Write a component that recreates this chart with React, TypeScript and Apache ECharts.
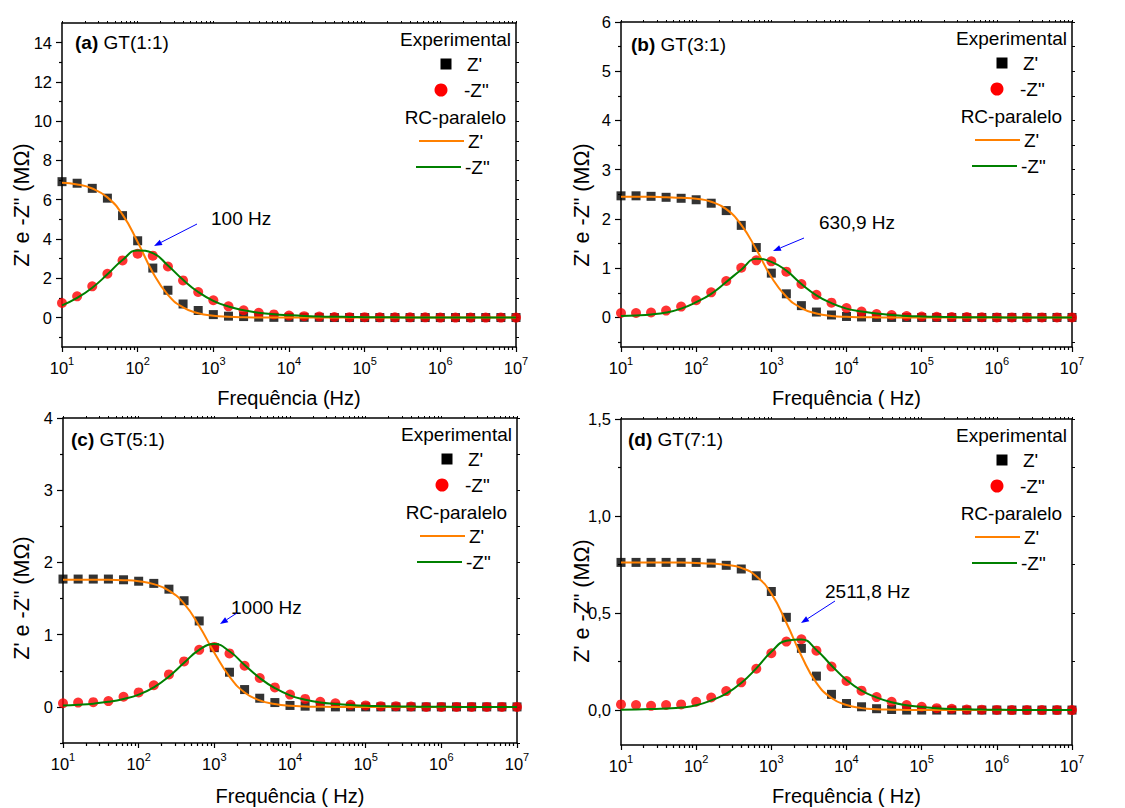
import React, { useEffect, useRef } from "react";
import * as echarts from "echarts";

// Frequencies of the measured / fitted points (Hz), 5 per decade
const FREQ = [10, 15.85, 25.12, 39.81, 63.1, 100, 158.5, 251.2, 398.1, 631, 1000, 1585, 2512, 3981, 6310, 10000, 15850, 25120, 39810, 63100, 1e5, 158500, 251200, 398100, 631000, 1e6, 1585000, 2512000, 3981000, 6310000, 1e7];

// (a) GT(1:1)
const A_ZRE = [6.92, 6.84, 6.58, 6.08, 5.19, 3.91, 2.52, 1.39, 0.69, 0.36, 0.15, 0.07, 0.05, 0.02, 0.01, 0.01, 0.01, 0.01, 0, 0, 0, 0, 0, 0, 0, 0, 0, 0, 0, 0, 0];
const A_ZIM = [0.74, 1.08, 1.59, 2.23, 2.91, 3.25, 3.15, 2.6, 1.89, 1.3, 0.88, 0.57, 0.37, 0.24, 0.16, 0.1, 0.07, 0.05, 0.03, 0.02, 0.02, 0.01, 0.01, 0.01, 0.01, 0, 0, 0, 0, 0, 0];
const A_FIT_RE = [6.86, 6.78, 6.57, 6.12, 5.24, 3.85, 2.3, 1.15, 0.52, 0.22, 0.09, 0.04, 0.015, 0.006, 0.002, 0.001, 0, 0, 0, 0, 0, 0, 0, 0, 0, 0, 0, 0, 0, 0, 0];
const A_FIT_IM = [0.62, 1.0, 1.52, 2.2, 2.93, 3.42, 3.28, 2.65, 1.92, 1.3, 0.85, 0.56, 0.37, 0.25, 0.17, 0.12, 0.08, 0.055, 0.04, 0.03, 0.02, 0.015, 0.01, 0.007, 0.005, 0.003, 0.002, 0.001, 0.001, 0, 0];

// (b) GT(3:1)
const B_ZRE = [2.47, 2.47, 2.46, 2.44, 2.42, 2.39, 2.32, 2.17, 1.87, 1.42, 0.9, 0.48, 0.24, 0.11, 0.05, 0.02, 0.01, 0, 0, 0, 0, 0, 0, 0, 0, 0, 0, 0, 0, 0, 0];
const B_ZIM = [0.09, 0.09, 0.1, 0.14, 0.22, 0.35, 0.51, 0.74, 1.01, 1.16, 1.14, 0.93, 0.68, 0.46, 0.3, 0.19, 0.12, 0.07, 0.05, 0.03, 0.02, 0.015, 0.01, 0.01, 0.005, 0, 0, 0, 0, 0, 0];
const B_FIT_RE = [2.45, 2.45, 2.45, 2.44, 2.43, 2.41, 2.35, 2.2, 1.88, 1.38, 0.82, 0.42, 0.19, 0.08, 0.03, 0.012, 0.005, 0.002, 0, 0, 0, 0, 0, 0, 0, 0, 0, 0, 0, 0, 0];
const B_FIT_IM = [0.03, 0.04, 0.06, 0.1, 0.18, 0.31, 0.48, 0.72, 0.97, 1.19, 1.13, 0.95, 0.68, 0.45, 0.29, 0.18, 0.12, 0.08, 0.05, 0.03, 0.02, 0.013, 0.008, 0.005, 0.003, 0.002, 0.001, 0.001, 0, 0, 0];

// (c) GT(5:1)
const C_ZRE = [1.77, 1.77, 1.77, 1.77, 1.76, 1.74, 1.71, 1.63, 1.47, 1.19, 0.82, 0.48, 0.24, 0.12, 0.06, 0.02, 0.01, 0, 0, 0, 0, 0, 0, 0, 0, 0, 0, 0, 0, 0, 0];
const C_ZIM = [0.05, 0.06, 0.065, 0.08, 0.14, 0.2, 0.3, 0.45, 0.63, 0.79, 0.83, 0.74, 0.57, 0.4, 0.27, 0.17, 0.11, 0.07, 0.05, 0.03, 0.02, 0.01, 0.01, 0.005, 0, 0, 0, 0, 0, 0, 0];
const C_FIT_RE = [1.76, 1.76, 1.76, 1.76, 1.755, 1.74, 1.7, 1.61, 1.43, 1.12, 0.75, 0.42, 0.2, 0.09, 0.04, 0.015, 0.006, 0.002, 0, 0, 0, 0, 0, 0, 0, 0, 0, 0, 0, 0, 0];
const C_FIT_IM = [0.02, 0.03, 0.045, 0.07, 0.11, 0.17, 0.27, 0.42, 0.61, 0.79, 0.87, 0.77, 0.58, 0.4, 0.26, 0.16, 0.1, 0.06, 0.04, 0.025, 0.015, 0.01, 0.006, 0.004, 0.002, 0.001, 0, 0, 0, 0, 0];

// (d) GT(7:1)
const D_ZRE = [0.761, 0.761, 0.761, 0.761, 0.761, 0.761, 0.757, 0.746, 0.727, 0.692, 0.611, 0.478, 0.318, 0.175, 0.081, 0.034, 0.017, 0.007, 0.003, 0, 0, 0, 0, 0, 0, 0, 0, 0, 0, 0, 0];
const D_ZIM = [0.029, 0.026, 0.022, 0.026, 0.029, 0.043, 0.065, 0.098, 0.143, 0.213, 0.293, 0.353, 0.365, 0.306, 0.224, 0.15, 0.1, 0.067, 0.043, 0.026, 0.017, 0.01, 0.007, 0.003, 0.002, 0.001, 0, 0, 0, 0, 0];
const D_FIT_RE = [0.76, 0.76, 0.76, 0.76, 0.76, 0.758, 0.755, 0.748, 0.733, 0.69, 0.6, 0.45, 0.28, 0.14, 0.062, 0.026, 0.01, 0.004, 0.002, 0.001, 0, 0, 0, 0, 0, 0, 0, 0, 0, 0, 0];
const D_FIT_IM = [0.002, 0.003, 0.005, 0.008, 0.013, 0.025, 0.05, 0.085, 0.14, 0.215, 0.3, 0.357, 0.364, 0.31, 0.23, 0.155, 0.1, 0.065, 0.04, 0.025, 0.016, 0.01, 0.006, 0.004, 0.0025, 0.0016, 0.001, 0.0006, 0.0004, 0.0003, 0.0002];

// Axis ticks
const X_TICKS = [10, 100, 1000, 10000, 1e5, 1e6, 1e7];
const X_MINOR = [20, 30, 40, 50, 60, 70, 80, 90, 200, 300, 400, 500, 600, 700, 800, 900, 2000, 3000, 4000, 5000, 6000, 7000, 8000, 9000, 2e4, 3e4, 4e4, 5e4, 6e4, 7e4, 8e4, 9e4, 2e5, 3e5, 4e5, 5e5, 6e5, 7e5, 8e5, 9e5, 2e6, 3e6, 4e6, 5e6, 6e6, 7e6, 8e6, 9e6];
const A_YTICKS = [0, 2, 4, 6, 8, 10, 12, 14];
const A_YMINOR = [-1, 1, 3, 5, 7, 9, 11, 13];
const B_YTICKS = [0, 1, 2, 3, 4, 5, 6];
const B_YMINOR = [-0.5, 0.5, 1.5, 2.5, 3.5, 4.5, 5.5];
const C_YTICKS = [0, 1, 2, 3, 4];
const C_YMINOR = [-0.5, 0.5, 1.5, 2.5, 3.5];
const D_YTICKS = [0, 0.5, 1, 1.5];
const D_YMINOR = [0.25, 0.75, 1.25];

const PANEL_TAGS = ["(a)", "(b)", "(c)", "(d)"];
const PANEL_TITLES = ["GT(1:1)", "GT(3:1)", "GT(5:1)", "GT(7:1)"];
const NOTES = ["100 Hz", "630,9 Hz", "1000 Hz", "2511,8 Hz"];
const X_NAMES = ["Frequência (Hz)", "Frequência ( Hz)", "Frequência ( Hz)", "Frequência ( Hz)"];
const Y_NAME = 'Z\' e -Z" (MΩ)';
const LEG_EXP = "Experimental";
const LEG_FIT = "RC-paralelo";
const LEG_RE = "Z'";
const LEG_IM = '-Z"';

const PANELS = [
  { zre: A_ZRE, zim: A_ZIM, fre: A_FIT_RE, fim: A_FIT_IM, yMin: -1.5, yMax: 15, yt: A_YTICKS, ym: A_YMINOR, comma: false },
  { zre: B_ZRE, zim: B_ZIM, fre: B_FIT_RE, fim: B_FIT_IM, yMin: -0.6, yMax: 6, yt: B_YTICKS, ym: B_YMINOR, comma: false },
  { zre: C_ZRE, zim: C_ZIM, fre: C_FIT_RE, fim: C_FIT_IM, yMin: -0.5, yMax: 4, yt: C_YTICKS, ym: C_YMINOR, comma: false },
  { zre: D_ZRE, zim: D_ZIM, fre: D_FIT_RE, fim: D_FIT_IM, yMin: -0.18, yMax: 1.5, yt: D_YTICKS, ym: D_YMINOR, comma: true },
];

// Layout (pixels)
const LAYOUT = [
  { left: 62, top: 23, width: 454, height: 324, tagX: 75, tagY: 42, noteX: 211, noteY: 218, a1: [197, 224], a2: [154, 246], yNameX: 22, yNameY: 205, xNameY: 398 },
  { left: 621, top: 22, width: 451, height: 325, tagX: 631, tagY: 44, noteX: 819, noteY: 222, a1: [804, 238], a2: [773, 251], yNameX: 582, yNameY: 205, xNameY: 398 },
  { left: 63, top: 418, width: 454, height: 325, tagX: 71, tagY: 439, noteX: 231, noteY: 607, a1: [237, 613], a2: [220, 624], yNameX: 22, yNameY: 598, xNameY: 796 },
  { left: 621, top: 419, width: 451, height: 326, tagX: 628, tagY: 439, noteX: 825, noteY: 591, a1: [835, 601], a2: [801, 623], yNameX: 582, yNameY: 601, xNameY: 796 },
];

const FONT = "'Liberation Sans', Arial, Helvetica, sans-serif";
const ORANGE = "#ff8000";
const GREEN = "#008000";

function txt(text: string, x: number, y: number, size: number, align: string, extra: any = {}) {
  return {
    type: "text",
    x,
    y,
    silent: true,
    ...extra,
    style: {
      text,
      fill: "#000",
      fontSize: size,
      fontFamily: FONT,
      align,
      verticalAlign: "middle",
      textAlign: align,
      textVerticalAlign: "middle",
      ...(extra.style || {}),
    },
  };
}

function buildOption() {
  const grid: any[] = [];
  const xAxis: any[] = [];
  const yAxis: any[] = [];
  const series: any[] = [];
  const graphic: any[] = [];
  const axisLine = { show: true, onZero: false, lineStyle: { color: "#000", width: 1.5 } };
  const tickStyle = { color: "#000", width: 1.2 };

  PANELS.forEach((p, i) => {
    const L = LAYOUT[i];
    grid.push({ left: L.left, top: L.top, width: L.width, height: L.height });
    const xBase = { gridIndex: i, type: "log", logBase: 10, min: 10, max: 1e7, splitLine: { show: false }, minorTick: { show: false }, minorSplitLine: { show: false } };
    xAxis.push({
      ...xBase,
      position: "bottom",
      axisLine,
      axisTick: { show: true, inside: false, length: 5, customValues: X_TICKS, lineStyle: tickStyle },
      axisLabel: {
        show: true,
        customValues: X_TICKS,
        margin: 8,
        showMinLabel: true,
        showMaxLabel: true,
        hideOverlap: false,
        formatter: (v: number) => `{b|10}{s|${Math.round(Math.log10(v))}}`,
        rich: {
          b: { fontSize: 16.5, fontFamily: FONT, color: "#000", lineHeight: 26 },
          s: { fontSize: 11, fontFamily: FONT, color: "#000", lineHeight: 12, verticalAlign: "top" },
        },
      },
    });
    xAxis.push({
      ...xBase,
      position: "bottom",
      axisLine: { show: false, onZero: false },
      axisTick: { show: true, inside: false, length: 3, customValues: X_MINOR, lineStyle: tickStyle },
      axisLabel: { show: false },
    });
    xAxis.push({
      ...xBase,
      position: "top",
      axisLine,
      axisTick: { show: true, inside: false, length: 2, customValues: [...X_TICKS, ...X_MINOR], lineStyle: { color: "#000", width: 1 } },
      axisLabel: { show: false },
    });

    const yBase = { gridIndex: i, type: "value", min: p.yMin, max: p.yMax, splitLine: { show: false } };
    yAxis.push({
      ...yBase,
      position: "left",
      axisLine,
      axisTick: { show: true, inside: false, length: 6, customValues: p.yt, lineStyle: tickStyle },
      axisLabel: {
        show: true,
        customValues: p.yt,
        margin: 10,
        showMinLabel: true,
        showMaxLabel: true,
        color: "#000",
        fontSize: 16.5,
        fontFamily: FONT,
        formatter: (v: number) => (p.comma ? v.toFixed(1).replace(".", ",") : String(v)),
      },
    });
    yAxis.push({
      ...yBase,
      position: "left",
      axisLine: { show: false, onZero: false },
      axisTick: { show: true, inside: false, length: 3, customValues: p.ym, lineStyle: tickStyle },
      axisLabel: { show: false },
    });
    yAxis.push({
      ...yBase,
      position: "right",
      axisLine,
      axisTick: { show: true, inside: false, length: 3, customValues: [...p.yt, ...p.ym], lineStyle: { color: "#000", width: 1 } },
      axisLabel: { show: false },
    });

    const xi = 3 * i;
    const yi = 3 * i;
    series.push({
      type: "scatter",
      xAxisIndex: xi,
      yAxisIndex: yi,
      symbol: "rect",
      symbolSize: 9,
      itemStyle: { color: "#000" },
      data: FREQ.map((f, k) => [f, p.zre[k]]),
    });
    series.push({
      type: "scatter",
      xAxisIndex: xi,
      yAxisIndex: yi,
      symbol: "circle",
      symbolSize: 10,
      itemStyle: { color: "#ff0000" },
      data: FREQ.map((f, k) => [f, p.zim[k]]),
    });
    series.push({
      type: "line",
      xAxisIndex: xi,
      yAxisIndex: yi,
      showSymbol: false,
      symbol: "none",
      smooth: 0.5,
      lineStyle: { color: ORANGE, width: 2 },
      data: FREQ.map((f, k) => [f, p.fre[k]]),
    });
    series.push({
      type: "line",
      xAxisIndex: xi,
      yAxisIndex: yi,
      showSymbol: false,
      symbol: "none",
      smooth: 0.5,
      lineStyle: { color: GREEN, width: 2 },
      data: FREQ.map((f, k) => [f, p.fim[k]]),
    });

    // panel title
    graphic.push(
      txt(`{b|${PANEL_TAGS[i]}} ${PANEL_TITLES[i]}`, L.tagX, L.tagY, 19, "left", {
        style: { rich: { b: { fontWeight: "bold", fontSize: 19, fontFamily: FONT, fill: "#000" } } },
      })
    );

    // legend
    const R = L.left + L.width;
    const T = L.top;
    graphic.push(txt(LEG_EXP, R - 5, T + 16, 19, "right"));
    graphic.push({ type: "rect", silent: true, shape: { x: R - 75.5, y: T + 35.5, width: 11, height: 11 }, style: { fill: "#000" } });
    graphic.push(txt(LEG_RE, R - 49, T + 41, 19, "left"));
    graphic.push({ type: "circle", silent: true, shape: { cx: R - 75, cy: T + 67, r: 6.5 }, style: { fill: "#ff0000" } });
    graphic.push(txt(LEG_IM, R - 52, T + 67, 19, "left"));
    graphic.push(txt(LEG_FIT, R - 10, T + 94, 19, "right"));
    graphic.push({ type: "line", silent: true, shape: { x1: R - 97, y1: T + 118, x2: R - 52, y2: T + 118 }, style: { stroke: ORANGE, lineWidth: 2 } });
    graphic.push(txt(LEG_RE, R - 48, T + 118, 19, "left"));
    graphic.push({ type: "line", silent: true, shape: { x1: R - 100, y1: T + 144, x2: R - 55, y2: T + 144 }, style: { stroke: GREEN, lineWidth: 2 } });
    graphic.push(txt(LEG_IM, R - 51, T + 144, 19, "left"));

    // note + arrow
    graphic.push(txt(NOTES[i], L.noteX, L.noteY, 19, "left"));
    const [x1, y1] = L.a1;
    const [x2, y2] = L.a2;
    const dx = x2 - x1;
    const dy = y2 - y1;
    const len = Math.sqrt(dx * dx + dy * dy);
    const ux = dx / len;
    const uy = dy / len;
    const bx = x2 - ux * 8;
    const by = y2 - uy * 8;
    graphic.push({ type: "line", silent: true, shape: { x1, y1, x2: bx, y2: by }, style: { stroke: "#0000ff", lineWidth: 1 } });
    graphic.push({
      type: "polygon",
      silent: true,
      shape: { points: [[x2, y2], [bx - uy * 3, by + ux * 3], [bx + uy * 3, by - ux * 3]] },
      style: { fill: "#0000ff" },
    });

    // axis names
    graphic.push(txt(X_NAMES[i], L.left + L.width / 2, L.xNameY, 20, "center"));
    graphic.push(txt(Y_NAME, L.yNameX, L.yNameY, 21.5, "center", { rotation: Math.PI / 2 }));
  });

  return { animation: false, backgroundColor: "#fff", grid, xAxis, yAxis, series, graphic };
}

export default function App() {
  const ref = useRef<HTMLDivElement>(null);
  useEffect(() => {
    if (!ref.current) return;
    const chart = echarts.init(ref.current, undefined, { renderer: "svg" });
    chart.setOption(buildOption() as any);
    return () => chart.dispose();
  }, []);
  return <div ref={ref} style={{ position: "fixed", left: 0, top: 0, width: 1125, height: 808, background: "#fff" }} />;
}
